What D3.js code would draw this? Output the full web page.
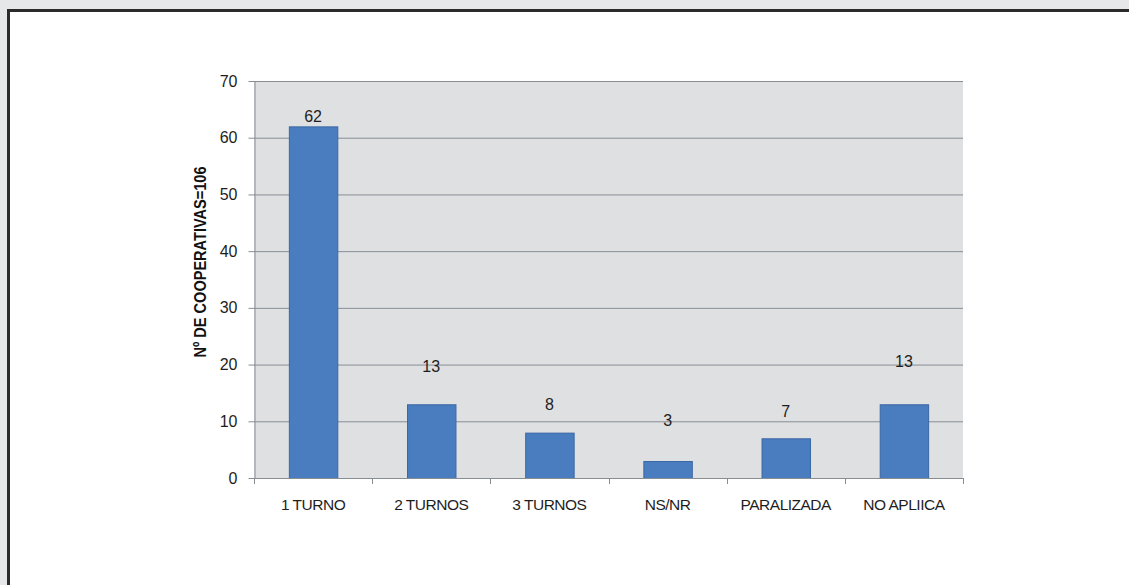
<!DOCTYPE html>
<html><head><meta charset="utf-8">
<script src="https://cdn.jsdelivr.net/npm/d3@7"></script>
<style>
html,body{margin:0;padding:0;background:#e6e7e8;}
svg{display:block;}
</style></head>
<body>
<svg id="c" width="1129" height="585"></svg>
<script>
const categories = ["1 TURNO","2 TURNOS","3 TURNOS","NS/NR","PARALIZADA","NO APLIICA"];
const values = [62,13,8,3,7,13];
const labelAt = [63.8,19.6,12.9,10.2,11.8,20.6];
const yTicks = [0,10,20,30,40,50,60,70];
const yTitle = "Nº DE COOPERATIVAS=106";

const svg = d3.select("#c");
svg.append("rect").attr("x",0).attr("y",0).attr("width",1129).attr("height",585).attr("fill","#e6e7e8");
svg.append("rect").attr("x",8.5).attr("y",10.5).attr("width",1140).attr("height",600)
  .attr("fill","#ffffff").attr("stroke","#2b2b2b").attr("stroke-width",3);

const L=254, R=963, T=81, B=478;
const x = d3.scaleBand().domain(categories).range([L,R]).paddingInner(0.59).paddingOuter(0.295);
const xb = d3.scaleBand().domain(categories).range([L,R]);
const y = d3.scaleLinear().domain([0,70]).range([B,T]);
const font = "Liberation Sans, Arial, sans-serif";

svg.append("rect").attr("x",L).attr("y",T).attr("width",R-L).attr("height",B-T).attr("fill","#dfe0e2");

svg.append("g").selectAll("line").data(yTicks.filter(d=>d>0)).join("line")
  .attr("x1",L).attr("x2",R).attr("y1",d=>y(d)+0.5).attr("y2",d=>y(d)+0.5)
  .attr("stroke","#868e94").attr("stroke-width",1);

const ya = svg.append("g").attr("transform",`translate(${L+0.5},0)`)
  .call(d3.axisLeft(y).tickValues(yTicks).tickSize(6).tickPadding(11).tickSizeOuter(0));
ya.select(".domain").attr("stroke","#868e94");
ya.selectAll(".tick line").attr("stroke","#868e94");
ya.selectAll(".tick text").attr("font-family",font)
  .attr("font-size","16px").attr("fill","#1e1e1e");

svg.append("g").selectAll("rect").data(values).join("rect")
  .attr("x",(d,i)=>x(categories[i])+0.5).attr("width",x.bandwidth())
  .attr("y",d=>y(d)+0.5).attr("height",d=>B-y(d))
  .attr("fill","#4a7dbf").attr("stroke","#3a67a4").attr("stroke-width",1);

svg.append("line").attr("x1",L).attr("x2",R).attr("y1",B+0.5).attr("y2",B+0.5).attr("stroke","#868e94");
svg.append("g").selectAll("line").data(d3.range(categories.length+1)).join("line")
  .attr("x1",i=>Math.round(L+i*xb.step())+0.5).attr("x2",i=>Math.round(L+i*xb.step())+0.5)
  .attr("y1",B).attr("y2",B+6).attr("stroke","#868e94");
svg.append("g").selectAll("text").data(categories).join("text")
  .attr("x",d=>xb(d)+xb.bandwidth()/2).attr("y",505).attr("dy","0.35em")
  .attr("text-anchor","middle").attr("font-family",font)
  .attr("font-size","15.5px").attr("letter-spacing","-0.5px").attr("fill","#1e1e1e").text(d=>d);

svg.append("g").selectAll("text").data(values).join("text")
  .attr("x",(d,i)=>xb(categories[i])+xb.bandwidth()/2).attr("y",(d,i)=>y(labelAt[i])).attr("dy","0.35em")
  .attr("text-anchor","middle").attr("font-family",font)
  .attr("font-size","16px").attr("fill","#1e1e1e").text(d=>d);

svg.append("text").attr("transform","translate(200,262) rotate(-90)")
  .attr("text-anchor","middle").attr("dy","0.35em")
  .attr("font-family","Liberation Sans Narrow, Arial Narrow, Liberation Sans, sans-serif")
  .attr("font-weight","bold").attr("font-size","17px")
  .attr("textLength",191).attr("lengthAdjust","spacingAndGlyphs")
  .attr("fill","#111").text(yTitle);
</script>
</body></html>
